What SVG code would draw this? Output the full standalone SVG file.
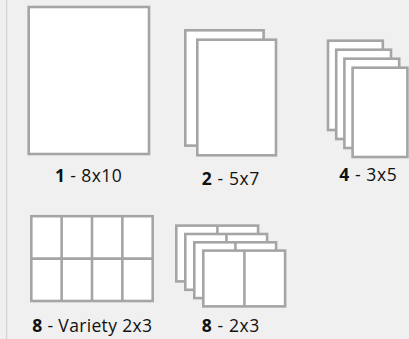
<svg xmlns="http://www.w3.org/2000/svg" width="409" height="339" viewBox="0 0 409 339">
<style>
.sheet{fill:#fff;stroke:#a5a5a5;stroke-width:2.6}
.div{stroke:#a5a5a5;stroke-width:2.6;fill:none}
.lbl{font-family:"Open Sans","Liberation Sans",sans-serif;font-size:17.5px;fill:#111}
.num{font-weight:bold}
</style>
<rect x="0" y="0" width="409" height="339" fill="#f0f0f0"/>
<line x1="6.6" y1="0" x2="6.6" y2="339" stroke="#d4d4d4" stroke-width="1.3"/>
<g id="node-8x10">
<rect class="sheet" x="28.7" y="7" width="120.3" height="147"/>
<text class="lbl" x="55" y="182" textLength="66.7" lengthAdjust="spacing"><tspan class="num">1</tspan> - 8x10</text>
</g>
<g id="node-5x7">
<rect class="sheet" x="185.3" y="30.3" width="78.3" height="115.3"/>
<rect class="sheet" x="197.3" y="39.7" width="78.7" height="115.6"/>
<text class="lbl" x="201.7" y="185" textLength="57.6" lengthAdjust="spacing"><tspan class="num">2</tspan> - 5x7</text>
</g>
<g id="node-3x5">
<rect class="sheet" x="328" y="40.7" width="54.8" height="89.3"/>
<rect class="sheet" x="336.2" y="49.7" width="54.8" height="89.3"/>
<rect class="sheet" x="344.4" y="58.7" width="54.8" height="89.3"/>
<rect class="sheet" x="352.6" y="67.7" width="54.8" height="89.3"/>
<text class="lbl" x="339.3" y="180.5" textLength="57.4" lengthAdjust="spacing"><tspan class="num">4</tspan> - 3x5</text>
</g>
<g id="node-variety-2x3">
<rect class="sheet" x="31.3" y="216.2" width="121.4" height="84.8"/>
<path class="div" d="M61.65 216.2V301M92 216.2V301M122.35 216.2V301M31.3 258.6H152.7"/>
<text class="lbl" x="32.3" y="331.7" textLength="119.7" lengthAdjust="spacing"><tspan class="num">8</tspan> - Variety 2x3</text>
</g>
<g id="node-2x3">
<rect class="sheet" x="176.3" y="225.6" width="81.8" height="55.8"/>
<line class="div" x1="217.4" y1="225.6" x2="217.4" y2="281.4"/>
<rect class="sheet" x="185.3" y="234" width="81.8" height="55.8"/>
<line class="div" x1="226.4" y1="234" x2="226.4" y2="289.8"/>
<rect class="sheet" x="194.3" y="242.3" width="81.8" height="55.8"/>
<line class="div" x1="235.4" y1="242.3" x2="235.4" y2="298.1"/>
<rect class="sheet" x="203.3" y="250.6" width="81.8" height="55.8"/>
<line class="div" x1="244.4" y1="250.6" x2="244.4" y2="306.4"/>
<text class="lbl" x="201.7" y="331.7" textLength="57.6" lengthAdjust="spacing"><tspan class="num">8</tspan> - 2x3</text>
</g>
</svg>
